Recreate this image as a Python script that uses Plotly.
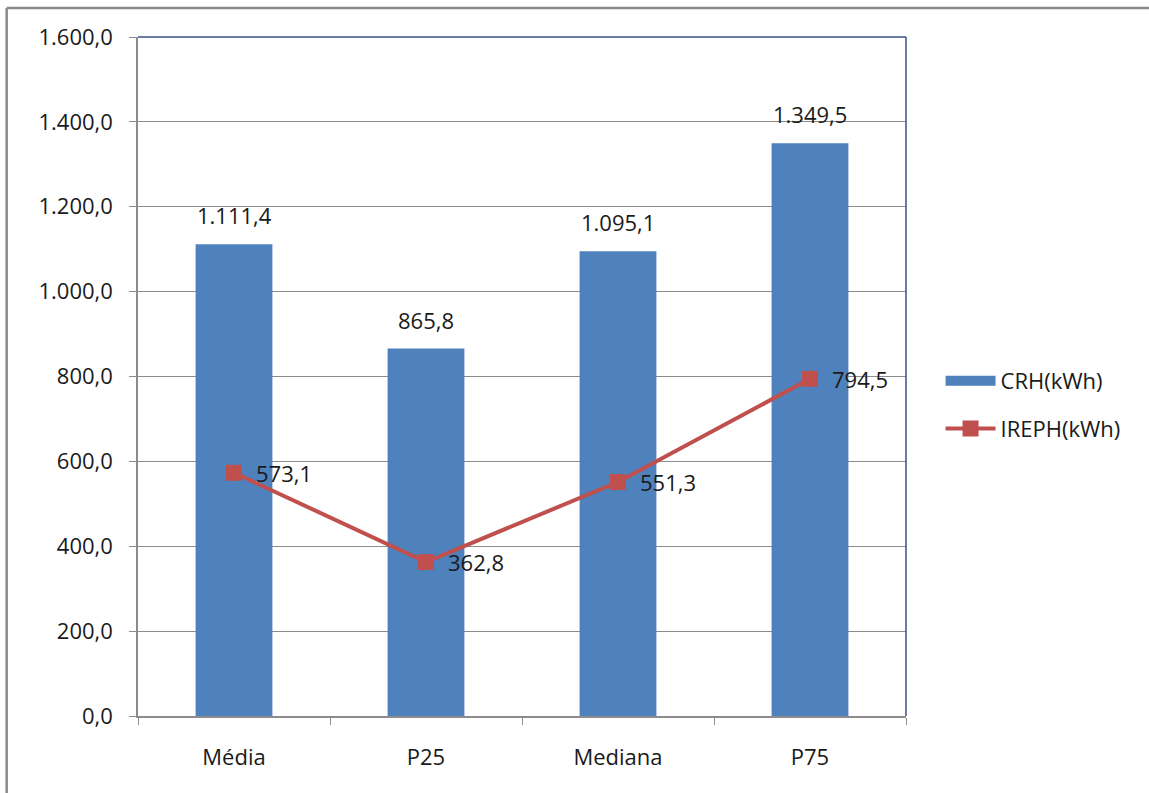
import plotly.graph_objects as go

categories = ["Média", "P25", "Mediana", "P75"]
crh_kwh = [1111.4, 865.8, 1095.1, 1349.5]
ireph_kwh = [573.1, 362.8, 551.3, 794.5]
y_ticks = [0, 200, 400, 600, 800, 1000, 1200, 1400, 1600]

BLUE = "#4F81BD"
RED = "#C0504D"
GRID = "#8C8C8C"
FRAME = "#3A5088"
TEXT = "#1A1A1A"
FONT = "Open Sans"
FS = 22


def pt_br(v):
    return f"{v:,.1f}".replace(",", "X").replace(".", ",").replace("X", ".")


fig = go.Figure()

fig.add_trace(go.Bar(
    x=categories, y=crh_kwh, name="CRH(kWh)",
    marker=dict(color=BLUE, line=dict(width=0)),
    width=0.4, legendgroup="crh", showlegend=False,
))
# legend key for the bars: a wide flat swatch
fig.add_trace(go.Scatter(
    x=[None], y=[None], name="CRH(kWh)", mode="lines",
    line=dict(color=BLUE, width=15), legendgroup="crh",
))

fig.add_trace(go.Scatter(
    x=categories, y=ireph_kwh, name="IREPH(kWh)",
    mode="lines+markers",
    line=dict(color=RED, width=4),
    marker=dict(symbol="square", size=16, color=RED),
    legendgroup="ireph",
))

# value labels above the bars
for c, v in zip(categories, crh_kwh):
    fig.add_annotation(
        x=c, y=v, text=pt_br(v),
        showarrow=False, yanchor="bottom", yshift=12,
        font=dict(family=FONT, size=FS, color=TEXT),
    )

# value labels to the right of the line markers
for c, v in zip(categories, ireph_kwh):
    fig.add_annotation(
        x=c, y=v, text=pt_br(v),
        showarrow=False, xanchor="left", xshift=20,
        font=dict(family=FONT, size=FS, color=TEXT),
    )

# plot-area frame on the top and right sides
fig.add_shape(type="line", xref="paper", yref="paper", x0=0, x1=1, y0=1, y1=1,
              line=dict(color=FRAME, width=1.5))
fig.add_shape(type="line", xref="paper", yref="paper", x0=1, x1=1, y0=0, y1=1,
              line=dict(color=FRAME, width=1.5))

# outer chart border (top and left edges)
fig.add_shape(type="line", xref="paper", yref="paper",
              x0=-0.171, x1=1.4, y0=1.0427, y1=1.0427,
              line=dict(color="#8A8A8A", width=2.5))
fig.add_shape(type="line", xref="paper", yref="paper",
              x0=-0.171, x1=-0.171, y0=-0.2, y1=1.0427,
              line=dict(color="#8A8A8A", width=2.5))

fig.update_layout(
    width=1149, height=793,
    margin=dict(l=138, r=243, t=37, b=77),
    paper_bgcolor="white", plot_bgcolor="white",
    separators=",.",
    font=dict(family=FONT, size=FS, color=TEXT),
    showlegend=True,
    legend=dict(
        x=1.045, y=0.458, xanchor="left", yanchor="middle",
        font=dict(family=FONT, size=FS, color=TEXT),
        traceorder="grouped", tracegroupgap=16, itemwidth=50,
        bgcolor="rgba(0,0,0,0)",
    ),
)

fig.update_xaxes(
    showline=True, linecolor=GRID, linewidth=1.5,
    ticks="outside", tickson="boundaries", ticklen=7, tickcolor=GRID,
    ticklabelstandoff=21,
    showgrid=False, tickfont=dict(family=FONT, size=FS, color=TEXT),
    range=[-0.5, 3.5],
)
fig.update_yaxes(
    range=[0, 1600], tickvals=y_ticks, tickformat=",.1f",
    showline=True, linecolor=GRID, linewidth=1.5,
    ticks="outside", ticklen=7, tickcolor=GRID,
    ticklabelstandoff=12,
    showgrid=True, gridcolor=GRID, gridwidth=1,
    zeroline=False,
    tickfont=dict(family=FONT, size=FS, color=TEXT),
)

fig.write_html("out.html")
